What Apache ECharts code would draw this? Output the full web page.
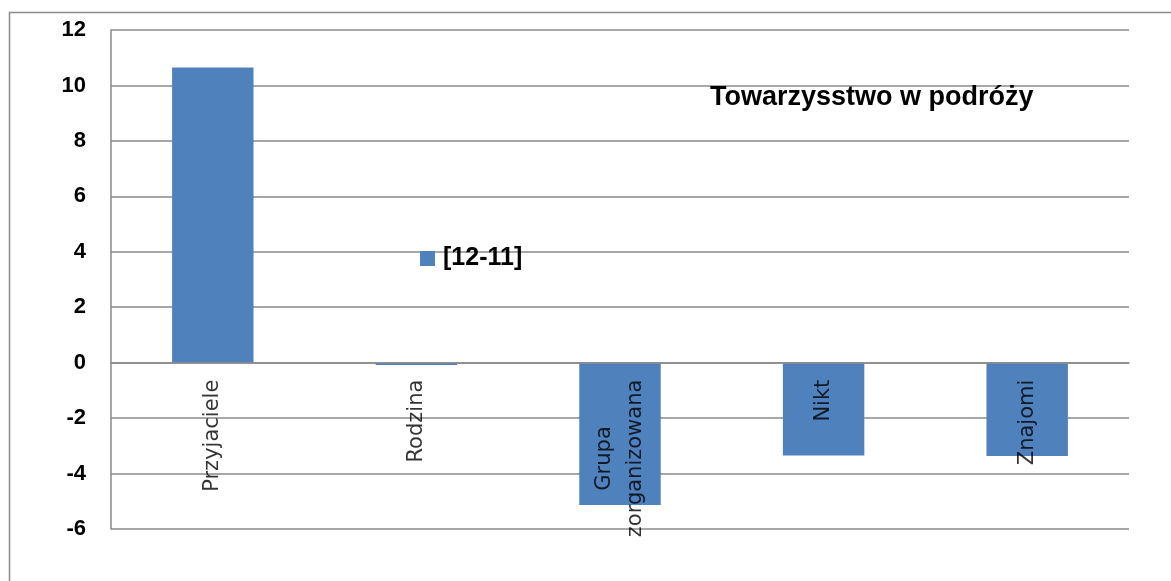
<!DOCTYPE html>
<html>
<head>
<meta charset="utf-8">
<script src="https://cdn.jsdelivr.net/npm/echarts@6/dist/echarts.min.js"></script>
<style>
html,body{margin:0;padding:0;background:#fff;}
#chart{width:1171px;height:581px;}
</style>
</head>
<body>
<div id="chart"></div>
<script>
const categories = ['Przyjaciele', 'Rodzina', 'Grupa zorganizowana', 'Nikt', 'Znajomi'];
const seriesName = '[12-11]';
const values = [10.65, -0.08, -5.13, -3.35, -3.37];
const chartTitle = 'Towarzysstwo w podróży';
const yMin = -6, yMax = 12, yStep = 2;

const chart = echarts.init(document.getElementById('chart'), null, {renderer: 'canvas'});
const grey = '#8a8a8a';
chart.setOption({
  animation: false,
  backgroundColor: '#ffffff',
  graphic: [{
    type: 'rect', left: 7, top: 10, z: -10,
    shape: {width: 1300, height: 700},
    style: {fill: 'none', stroke: grey, lineWidth: 1.5}
  }],
  title: {
    text: chartTitle, left: 710, top: 84, padding: 0,
    textStyle: {fontFamily: 'Liberation Sans', fontWeight: 'bold', fontSize: 27, color: '#000'}
  },
  legend: {
    left: 420, top: 246, padding: 0,
    itemWidth: 15, itemHeight: 15, itemGap: 8,
    icon: 'rect',
    data: [seriesName],
    textStyle: {fontFamily: 'Liberation Sans', fontWeight: 'bold', fontSize: 25, color: '#000', padding: [0,0,0,3]}
  },
  grid: {left: 111, right: 42, top: 30, bottom: 52, outerBoundsMode: 'none'},
  xAxis: {
    type: 'category', data: categories, z: 10,
    axisLine: {show: true, onZero: true, lineStyle: {color: grey, width: 1.5}},
    axisTick: {show: false},
    splitLine: {show: false},
    axisLabel: {show: false}
  },
  yAxis: {
    type: 'value', min: yMin, max: yMax, interval: yStep,
    axisLine: {show: true, lineStyle: {color: grey, width: 1.5}},
    axisTick: {show: false},
    splitLine: {show: true, lineStyle: {color: grey, width: 1.5}},
    axisLabel: {margin: 25, fontFamily: 'Liberation Sans', fontWeight: 'bold', fontSize: 22, color: '#000'}
  },
  series: [{
    name: seriesName, type: 'bar', data: values,
    barWidth: '40%',
    itemStyle: {color: '#4F81BD'}
  }, {
    name: 'labels', type: 'scatter', data: categories.map(() => 0),
    symbolSize: 0, silent: true, z: 20, clip: false,
    label: {
      show: true, position: 'bottom', distance: 17, rotate: 90,
      align: 'right', verticalAlign: 'middle',
      formatter: function (p) { return p.name.split(' ').map(s => '{c|' + s + '}').join('\n'); },
      rich: {c: {align: 'center', fontFamily: 'DejaVu Sans', fontSize: 21, lineHeight: 31, color: '#000'}}
    }
  }]
});
</script>
</body>
</html>
